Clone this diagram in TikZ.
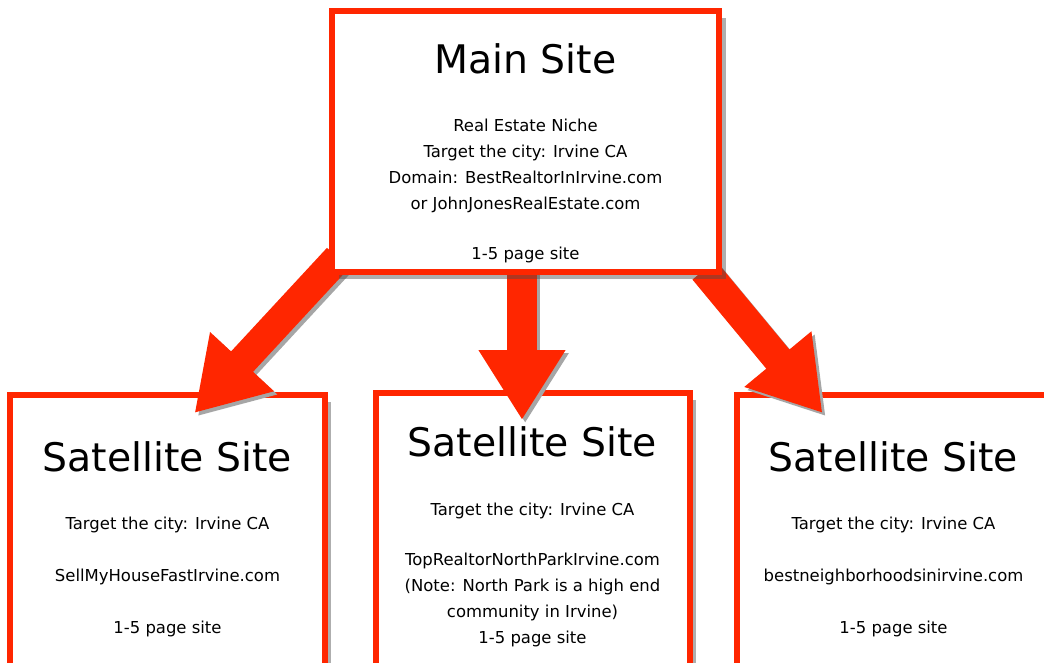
\documentclass[tikz,border=0pt]{standalone}
\usepackage{fontspec}
\setmainfont{DejaVu Sans}
\usepackage{tikz}
\usetikzlibrary{positioning, calc, shadows, arrows.meta}
\definecolor{sitered}{RGB}{255,38,0}
\tikzstyle{site} = [rectangle, minimum width=7.85cm, minimum height=7.2cm, draw=sitered, line width=0.15cm, fill=white, drop shadow={shadow xshift=0.17cm, shadow yshift=-0.17cm, fill=black!70, opacity=0.45}]
\tikzstyle{mainsite} = [site, minimum width=9.675cm, minimum height=6.525cm]
\tikzstyle{sitetitle} = [anchor=base, inner sep=0pt, font=\fontsize{28}{34}\selectfont]
\tikzstyle{sitetext} = [anchor=north, inner sep=0pt, align=center, font=\fontsize{11.7}{18.5}\selectfont]
\tikzstyle{bigarrow} = [-{Triangle[width=2.05cm, length=1.75cm]}, line width=0.75cm, draw=sitered]
\tikzstyle{arrowshadow} = [bigarrow, draw=black!35, transform canvas={xshift=0.08cm, yshift=-0.08cm}]
\pgfdeclarelayer{back}
\pgfdeclarelayer{arrows}
\pgfsetlayers{back,arrows,main}

\begin{document}
\begin{tikzpicture}
    \useasboundingbox (0,0) rectangle (26.1,-16.575);

    %主站
    \node (main) [mainsite] at (13.1375,-3.5375) {};
    \node (maintitle) [sitetitle] at ($(main.north)+(0,-1.65)$) {Main Site};
    \node (maintext) [sitetext] at ($(main.north)+(0,-2.765)$) {Real Estate Niche\\Target the city: Irvine CA\\Domain: BestRealtorInIrvine.com\\or JohnJonesRealEstate.com\\[0.6cm]1-5 page site};

    %卫星站
    \begin{pgfonlayer}{back}
    \node (sat2) [site, below=2.875cm of main, xshift=0.175cm] {};
    \node (sat1) [site, left=1.125cm of sat2, yshift=-0.05cm] {};
    \node (sat3) [site, right=1.025cm of sat2, yshift=-0.05cm] {};
    \end{pgfonlayer}
    \node (sat1title) [sitetitle] at ($(sat1.north)+(0,-1.975)$) {Satellite Site};
    \node (sat1text) [sitetext] at ($(sat1.north)+(0,-3.115)$) {Target the city: Irvine CA\\[0.65cm]SellMyHouseFastIrvine.com\\[0.65cm]1-5 page site};
    \node (sat2title) [sitetitle] at ($(sat2.north)+(0,-1.65)$) {Satellite Site};
    \node (sat2text) [sitetext] at ($(sat2.north)+(0,-2.815)$) {Target the city: Irvine CA\\[0.6cm]TopRealtorNorthParkIrvine.com\\(Note: North Park is a high end\\community in Irvine)\\1-5 page site};
    \node (sat3title) [sitetitle] at ($(sat3.north)+(0,-1.975)$) {Satellite Site};
    \node (sat3text) [sitetext] at ($(sat3.north)+(0,-3.115)$) {Target the city: Irvine CA\\[0.65cm]bestneighborhoodsinirvine.com\\[0.65cm]1-5 page site};

    %箭头
    \begin{pgfonlayer}{arrows}
    \draw [arrowshadow] ($(main.south west)+(0.225,0.425)$) -- ($(sat1.north)+(0.675,-0.525)$);
    \draw [arrowshadow] ($(main.south)+(-0.0875,0.1)$) -- ($(sat2.north)+(-0.2625,-0.75)$);
    \draw [arrowshadow] ($(main.south east)+(-0.45,0.125)$) -- ($(sat3.north west)+(2.225,-0.525)$);
    \draw [bigarrow] ($(main.south west)+(0.225,0.425)$) -- ($(sat1.north)+(0.675,-0.525)$);
    \draw [bigarrow] ($(main.south)+(-0.0875,0.1)$) -- ($(sat2.north)+(-0.2625,-0.75)$);
    \draw [bigarrow] ($(main.south east)+(-0.45,0.125)$) -- ($(sat3.north west)+(2.225,-0.525)$);
    \end{pgfonlayer}
\end{tikzpicture}
\end{document}
